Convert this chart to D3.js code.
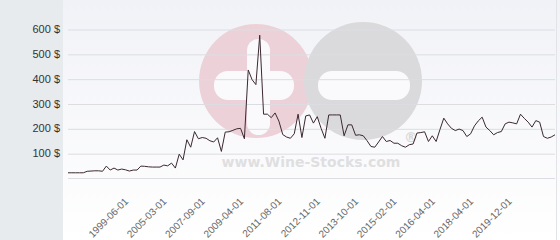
<!DOCTYPE html>
<html>
<head>
<meta charset="utf-8">
<script src="https://cdn.jsdelivr.net/npm/d3@7"></script>
<style>
  html, body { margin: 0; padding: 0; background: #fff; }
  svg { display: block; font-family: 'DejaVu Sans', sans-serif; }
  .yAxis text { font-size: 11px; fill: #333; }
  .xAxis text { font-size: 10px; fill: #666; }
</style>
</head>
<body>
<svg id="chart" width="560" height="240"></svg>
<script>
// price per bottle, one value per quote (categorical x axis)
const prices = [
  21, 21, 21, 21, 21, 27, 28, 29, 29, 27,
  48, 32, 40, 32, 36, 33, 28, 32, 32, 48,
  47, 45, 44, 44, 44, 52, 49, 60, 40, 96,
  73, 154, 124, 187, 158, 163, 160, 150, 145, 162,
  107, 185, 186, 192, 198, 200, 158, 435, 396, 376,
  575, 257, 257, 243, 262, 229, 175, 165, 160, 178,
  257, 163, 250, 254, 221, 247, 200, 160, 254, 254,
  254, 254, 170, 214, 214, 172, 174, 170, 150, 127,
  124, 145, 167, 147, 151, 140, 140, 130, 124, 134,
  137, 181, 183, 186, 147, 170, 147, 195, 241, 218,
  200, 191, 197, 191, 167, 178, 210, 230, 245, 205,
  191, 174, 183, 187, 218, 225, 222, 218, 257, 240,
  225, 205, 231, 225, 167, 160, 165, 174
];

// labelled quotes on the x axis
const tickIndex = [16, 26, 36, 46, 56, 66, 76, 86, 96, 106, 116];
const tickLabels = ['1999-06-01', '2005-03-01', '2007-09-01', '2009-04-01', '2011-08-01',
  '2012-11-01', '2013-10-01', '2015-02-01', '2016-04-01', '2018-04-01', '2019-12-01'];

const yTicks = [100, 200, 300, 400, 500, 600];

const svg = d3.select('#chart');
const width = +svg.attr('width');
const height = +svg.attr('height');
const plot = {left: 68, right: 555, top: 29, bottom: 178};

// backgrounds
const defs = svg.append('defs');
const grad = defs.append('linearGradient').attr('id', 'bg')
    .attr('x1', 0).attr('y1', 0).attr('x2', 0).attr('y2', 1);
grad.append('stop').attr('offset', '0%').attr('stop-color', '#f1f2f7');
grad.append('stop').attr('offset', '100%').attr('stop-color', '#ffffff');

svg.append('rect').attr('x', 0).attr('y', 0).attr('width', width).attr('height', height)
    .attr('fill', 'url(#bg)');
svg.append('rect').attr('x', 0).attr('y', 0).attr('width', 63).attr('height', height)
    .attr('fill', '#e7ebee');
svg.append('line').attr('x1', 556.5).attr('x2', 556.5).attr('y1', 0).attr('y2', height)
    .attr('stroke', '#e2e3e6');

// watermark
const wm = svg.append('g').attr('class', 'watermark');
wm.append('circle').attr('cx', 256).attr('cy', 81).attr('r', 57).attr('fill', '#ecd2d8');
wm.append('circle').attr('cx', 363).attr('cy', 81).attr('r', 59).attr('fill', '#dadadc');
wm.append('rect').attr('x', 247).attr('y', 39).attr('width', 23).attr('height', 96).attr('rx', 11.5)
    .attr('fill', '#fafafc');
wm.append('rect').attr('x', 214).attr('y', 71).attr('width', 80).attr('height', 29).attr('rx', 14)
    .attr('fill', '#fafafc');
wm.append('rect').attr('x', 318).attr('y', 71).attr('width', 92).attr('height', 29).attr('rx', 14)
    .attr('fill', '#fafafc');
wm.append('text').attr('x', 411).attr('y', 142).attr('text-anchor', 'middle')
    .style('font-size', '14px').style('font-weight', 'bold').attr('fill', '#d8d8da').text('®');
wm.append('text').attr('x', 311).attr('y', 167).attr('text-anchor', 'middle')
    .style('font-size', '14px').style('font-weight', 'bold').attr('fill', '#dfdfe1')
    .text('www.Wine-Stocks.com');

// scales
const xScale = d3.scalePoint().domain(d3.range(prices.length)).range([plot.left, plot.right]);
const yScale = d3.scaleLinear().domain([0, 600]).range([plot.bottom, plot.top]);

// y axis with grid lines
const yAxisG = svg.append('g').attr('class', 'yAxis')
    .attr('transform', `translate(${plot.left}, 0)`)
    .call(d3.axisLeft(yScale).tickValues(yTicks).tickFormat(d => d + ' $')
      .tickSize(-(plot.right - plot.left)).tickPadding(8));
yAxisG.select('.domain').remove();
yAxisG.selectAll('line').attr('stroke', '#dcdde2').attr('transform', 'translate(0,0.5)');

// x axis
const xAxisG = svg.append('g').attr('class', 'xAxis')
    .attr('transform', `translate(0, ${plot.bottom})`)
    .call(d3.axisBottom(xScale).tickValues(tickIndex)
      .tickFormat((d, i) => tickLabels[i]).tickSize(0).tickSizeOuter(0));
xAxisG.select('.domain').attr('stroke', '#dcdde2').attr('d', `M${plot.left},0.5H${plot.right}`);
xAxisG.selectAll('text')
    .attr('text-anchor', 'end')
    .attr('dy', 0)
    .attr('y', 0)
    .attr('transform', 'translate(-1, 24) rotate(-45)');

// price line
const line = d3.line()
    .x((d, i) => xScale(i))
    .y(d => yScale(d));

svg.append('path')
    .datum(prices)
    .attr('d', line)
    .attr('fill', 'none')
    .attr('stroke', '#3a2830')
    .attr('stroke-width', 1);
</script>
</body>
</html>
